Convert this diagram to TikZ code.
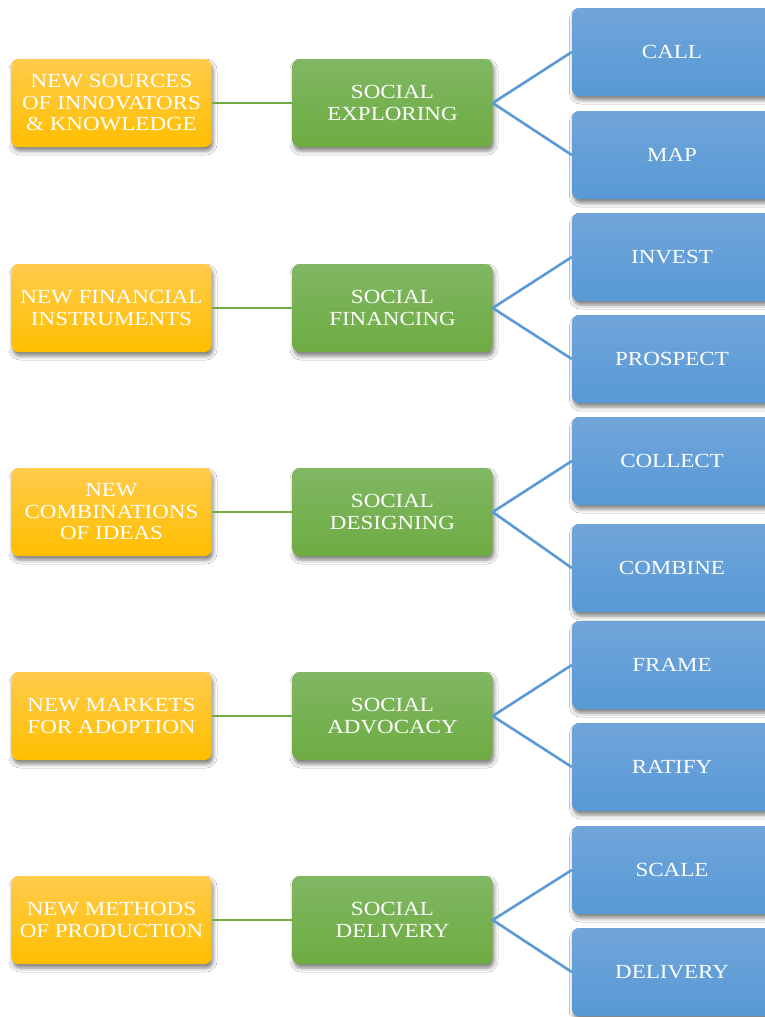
\documentclass[tikz,border=0pt]{standalone}
\usepackage{fontspec}
\setmainfont{Liberation Serif}[FakeStretch=1.15]
\usetikzlibrary{shadows.blur}
\definecolor{orTop}{HTML}{FFCB4C}
\definecolor{orBot}{HTML}{FFBF00}
\definecolor{grTop}{HTML}{80B763}
\definecolor{grBot}{HTML}{6EAC42}
\definecolor{blTop}{HTML}{71A5DA}
\definecolor{blBot}{HTML}{5799D6}
\definecolor{grLine}{HTML}{70AD47}
\definecolor{blLine}{HTML}{5B9BD5}
\tikzset{
  boxbase/.style={rounded corners=7pt, minimum width=200pt, minimum height=88pt,
    inner sep=0pt, align=center, text=white,
    font=\fontsize{20}{21.5}\selectfont,
    blur shadow={shadow xshift=1.5pt, shadow yshift=-4pt, shadow blur radius=4pt, shadow opacity=50}},
  orbox/.style={boxbase, top color=orTop, bottom color=orBot},
  grbox/.style={boxbase, top color=grTop, bottom color=grBot},
  blbox/.style={boxbase, top color=blTop, bottom color=blBot},
  gline/.style={draw=grLine, line width=2.6pt},
  bline/.style={draw=blLine, line width=2.6pt}
}
\begin{document}
\begin{tikzpicture}[x=1pt,y=-1pt]
\useasboundingbox[fill=white] (0,0) rectangle (765,1017);
% row 1
\node[orbox] (o1) at (111.5,103) {NEW SOURCES\\OF INNOVATORS\\\& KNOWLEDGE};
\node[grbox] (g1) at (392.5,103) {SOCIAL\\EXPLORING};
\node[blbox] (b1a) at (672,52) {CALL};
\node[blbox] (b1b) at (672,155) {MAP};
% row 2
\node[orbox] (o2) at (111.5,308) {NEW FINANCIAL\\INSTRUMENTS};
\node[grbox] (g2) at (392.5,308) {SOCIAL\\FINANCING};
\node[blbox] (b2a) at (672,257) {INVEST};
\node[blbox] (b2b) at (672,359) {PROSPECT};
% row 3
\node[orbox] (o3) at (111.5,512) {NEW\\COMBINATIONS\\OF IDEAS};
\node[grbox] (g3) at (392.5,512) {SOCIAL\\DESIGNING};
\node[blbox] (b3a) at (672,461) {COLLECT};
\node[blbox] (b3b) at (672,568) {COMBINE};
% row 4
\node[orbox] (o4) at (111.5,716) {NEW MARKETS\\FOR ADOPTION};
\node[grbox] (g4) at (392.5,716) {SOCIAL\\ADVOCACY};
\node[blbox] (b4a) at (672,665) {FRAME};
\node[blbox] (b4b) at (672,767) {RATIFY};
% row 5
\node[orbox] (o5) at (111.5,920) {NEW METHODS\\OF PRODUCTION};
\node[grbox] (g5) at (392.5,920) {SOCIAL\\DELIVERY};
\node[blbox] (b5a) at (672,870) {SCALE};
\node[blbox] (b5b) at (672,972) {DELIVERY};
% connectors
\foreach \i in {1,...,5}{
  \draw[gline] (o\i.east) -- (g\i.west);
  \draw[bline] (g\i.east) -- (b\i a.west);
  \draw[bline] (g\i.east) -- (b\i b.west);
}
\end{tikzpicture}
\end{document}
